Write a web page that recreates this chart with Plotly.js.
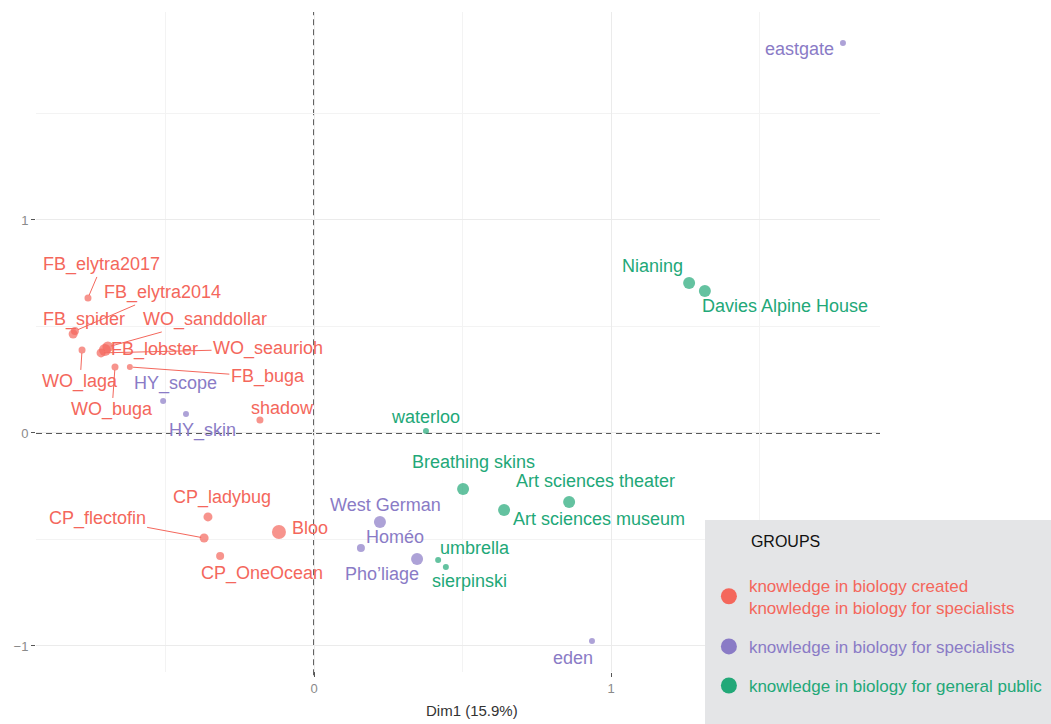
<!DOCTYPE html>
<html>
<head>
<meta charset="utf-8">
<script src="https://cdn.plot.ly/plotly-3.0.1.min.js"></script>
<style>html,body{margin:0;padding:0;background:#fff}</style>
</head>
<body>
<div id="pca" style="width:1051px;height:724px"></div>
<script>
// PCA individuals map, Dim1 x Dim2, coloured by group
const groupLabels = [
  ["knowledge in biology created", "knowledge in biology for specialists"],
  ["knowledge in biology for specialists"],
  ["knowledge in biology for general public"]
];
const groupColors = ["#F4675C", "#8A7BC6", "#22A878"];

const createdNames = ["FB_elytra2017", "FB_elytra2014", "FB_spider", "WO_laga", "WO_sanddollar", "FB_lobster",
  "WO_seaurioh", "WO_buga", "FB_buga", "shadow", "CP_ladybug", "CP_flectofin", "CP_OneOcean", "Bloo"];
const createdDim1 = [-0.761, -0.805, -0.811, -0.781, -0.694, -0.704, -0.717, -0.670, -0.620, -0.182, -0.357, -0.370, -0.316, -0.118];
const createdDim2 = [0.634, 0.479, 0.465, 0.390, 0.404, 0.390, 0.376, 0.310, 0.310, 0.061, -0.394, -0.493, -0.577, -0.465];
const createdSize = [7, 8, 9, 7, 11, 12, 9, 7, 6, 7, 9, 9, 8, 14];

const specNames = ["HY_scope", "HY_skin", "eastgate", "West German", "Homéo", "Pho’liage", "eden"];
const specDim1 = [-0.508, -0.431, 1.781, 0.222, 0.158, 0.347, 0.936];
const specDim2 = [0.150, 0.089, 1.831, -0.418, -0.540, -0.592, -0.977];
const specSize = [6, 6, 6, 12, 8, 12, 6];

const publicNames = ["waterloo", "Breathing skins", "Art sciences museum", "Art sciences theater", "umbrella",
  "sierpinski", "Nianing", "Davies Alpine House"];
const publicDim1 = [0.377, 0.502, 0.640, 0.859, 0.418, 0.444, 1.263, 1.316];
const publicDim2 = [0.009, -0.263, -0.362, -0.324, -0.596, -0.629, 0.704, 0.667];
const publicSize = [6, 12, 12, 12, 6, 6, 12, 12];

// label placement (pixel offset from point) and whether a repel segment is drawn
const createdOffsets = [[14, -33], [88, -38], [11, -14], [-2, 32], [97, -27], [50, 0], [167, -4], [-3, 43], [138, 10],
  [23, -12], [14, -19], [-107, -20], [42, 18], [31, -4]];
const createdSegments = [1, 1, 0, 1, 1, 0, 1, 1, 1, 0, 0, 1, 0, 0];
const specOffsets = [[12, -18], [17, 16], [-43, 6], [6, -17], [34, -11], [-35, 15], [-19, 17]];
const publicOffsets = [[0, -14], [10, -27], [95, 9], [26, -21], [37, -12], [24, 14], [-37, -17], [80, 15]];

const FONT = "Liberation Sans, Arial, sans-serif";
const NARROW = "Liberation Sans Narrow, Arial Narrow, Liberation Sans, sans-serif";

const groups = [
  { names: createdNames, x: createdDim1, y: createdDim2, size: createdSize, off: createdOffsets, seg: createdSegments },
  { names: specNames, x: specDim1, y: specDim2, size: specSize, off: specOffsets, seg: specNames.map(() => 0) },
  { names: publicNames, x: publicDim1, y: publicDim2, size: publicSize, off: publicOffsets, seg: publicNames.map(() => 0) }
];

const traces = [];
const annotations = [];
groups.forEach((g, k) => {
  const color = groupColors[k];
  traces.push({
    type: "scatter", mode: "markers", x: g.x, y: g.y, text: g.names,
    marker: { color, size: g.size, line: { width: 0 } },
    showlegend: false, legendgroup: "g" + k, hoverinfo: "text"
  });
  g.names.forEach((n, i) => {
    annotations.push({
      x: g.x[i], y: g.y[i], xref: "x", yref: "y", text: n,
      showarrow: true, ax: g.off[i][0], ay: g.off[i][1],
      arrowhead: 0, arrowwidth: 1, standoff: 3,
      arrowcolor: g.seg[i] ? color : "rgba(0,0,0,0)",
      font: { family: FONT, size: 18, color }
    });
  });
});

// legend entries
groups.forEach((g, k) => {
  const color = groupColors[k];
  traces.push({
    type: "scatter", mode: "markers", x: [null], y: [null],
    name: groupLabels[k].map(t => `<span style="color:${color}">${t}</span>`).join("<br>"),
    marker: { color, size: 16 }, legendgroup: "g" + k, showlegend: true
  });
});

annotations.push({
  xref: "paper", yref: "paper", x: 0.5166, y: -0.0576, xanchor: "center", yanchor: "middle",
  text: "Dim1 (15.9%)", showarrow: false, font: { family: NARROW, size: 15, color: "#333" }
});

const dash = { color: "#222", width: 1.4, dash: "6px,4px" };
const shapes = [
  { type: "line", xref: "x", yref: "paper", x0: 0, x1: 0, y0: -0.005, y1: 1, line: dash, layer: "below" },
  { type: "line", xref: "paper", yref: "y", x0: 0, x1: 1, y0: 0, y1: 0, line: dash, layer: "below" },
  { type: "rect", xref: "paper", yref: "paper", x0: 0.7927, x1: 1.25, y0: -0.12, y1: 0.2303,
    fillcolor: "#e4e5e7", line: { width: 0 }, layer: "above" }
];

const axisCommon = {
  dtick: 1, tick0: 0, showgrid: true, gridcolor: "#ebebeb", gridwidth: 1, zeroline: false, showline: false,
  ticks: "outside", ticklen: 4, tickcolor: "#555", tickwidth: 1,
  tickfont: { family: NARROW, size: 13, color: "#8a8a8a" },
  minor: { dtick: 0.5, showgrid: true, gridcolor: "#f3f3f3", gridwidth: 1 }
};

Plotly.newPlot("pca", traces, {
  width: 1051, height: 724,
  paper_bgcolor: "#fff", plot_bgcolor: "#fff",
  margin: { l: 36, r: 171, t: 12, b: 52, autoexpand: false },
  xaxis: { ...axisCommon, range: [-0.936, 1.9057] },
  yaxis: { ...axisCommon, range: [-1.1221, 1.9765] },
  shapes, annotations,
  legend: {
    xref: "container", yref: "container",
    x: 0.6745, y: 0.2734, xanchor: "left", yanchor: "top", bgcolor: "rgba(0,0,0,0)",
    font: { family: FONT, size: 17 }, itemsizing: "trace", traceorder: "grouped", tracegroupgap: 14,
    title: { text: "&nbsp;&nbsp;&nbsp;&nbsp;&nbsp;&nbsp;&nbsp;&nbsp;&nbsp;GROUPS<br>&nbsp;", font: { family: FONT, size: 16, color: "#111" } }
  },
  hovermode: "closest"
}, { displayModeBar: false });
</script>
</body>
</html>
